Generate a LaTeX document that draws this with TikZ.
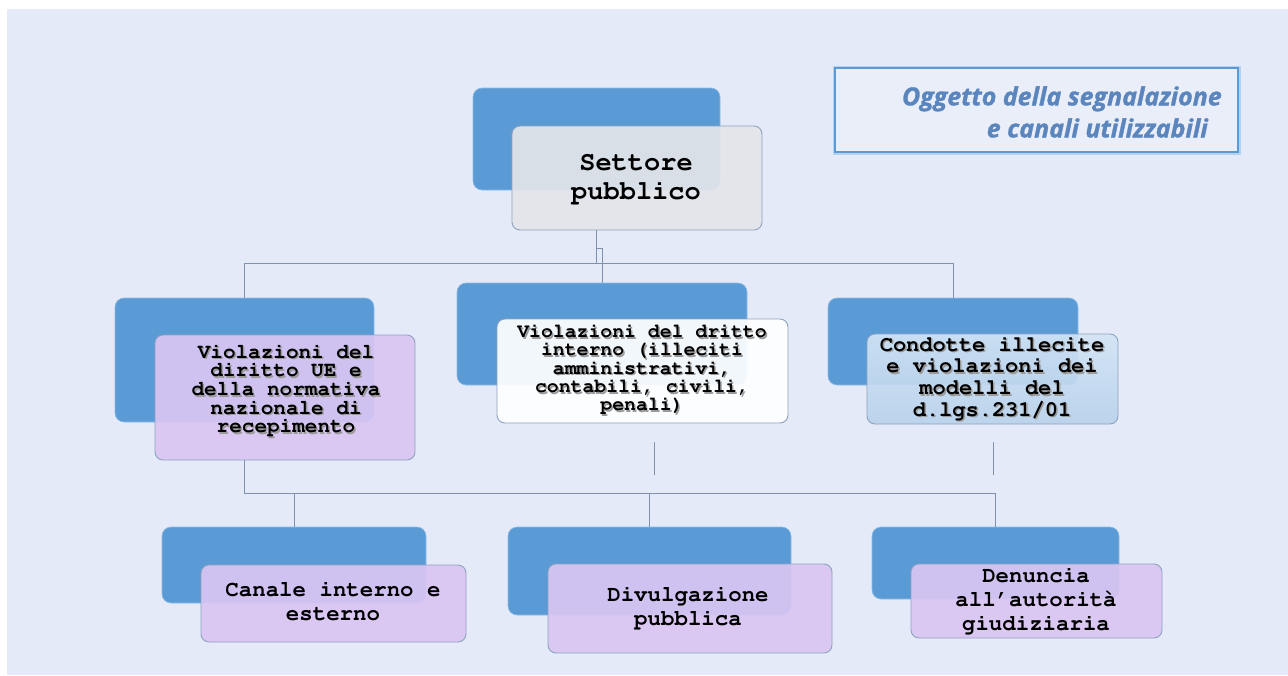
\documentclass[tikz,border=0pt]{standalone}
\usepackage[T1]{fontenc}
\usepackage{fontspec}
\newfontfamily\titlefnt[BoldItalicFeatures={FakeBold=1.2}]{Open Sans}
\newcommand{\courb}{\fontencoding{T1}\fontfamily{pcr}\fontseries{b}\fontshape{n}\selectfont}
\definecolor{bgC}{HTML}{E4EAF7}
\definecolor{blueC}{HTML}{5B9BD5}
\definecolor{blueEdge}{HTML}{8DBBE6}
\definecolor{edgeC}{HTML}{8EA2C0}
\definecolor{lineC}{HTML}{7F93B0}
\definecolor{greyF}{HTML}{E4E5E9}
\definecolor{purpF}{HTML}{DAC6F3}
\definecolor{lbTop}{HTML}{D3E4F5}
\definecolor{lbBot}{HTML}{B8D2EC}
\definecolor{titleC}{HTML}{5A85BD}
\definecolor{titleEdge}{HTML}{5B9BD5}
\definecolor{titleGlow}{HTML}{B5D2F0}
\definecolor{shadowC}{HTML}{9A9A9A}
\begin{document}
\begin{tikzpicture}[x=1pt,y=-1pt,
  back/.style={fill=blueC, draw=blueEdge, line width=0.6pt, rounded corners=9pt, inner sep=0pt},
  front/.style={draw=edgeC, line width=0.9pt, rounded corners=8pt, inner sep=0pt, fill opacity=0.92},
  conn/.style={draw=lineC, line width=1pt},
  txt/.style={align=center, inner sep=0pt, text=black},
  shad/.style={align=center, inner sep=0pt, text=shadowC},
  fbig/.style={font=\courb\fontsize{27}{29}\selectfont},
  fml/.style={font=\courb\fontsize{21}{18.7}\selectfont},
  fmc/.style={font=\courb\fontsize{19.8}{18.3}\selectfont},
  fmr/.style={font=\courb\fontsize{22}{21.7}\selectfont},
  fbot/.style={font=\courb\fontsize{22.4}{24}\selectfont}
]
\useasboundingbox (0,0) rectangle (1288,675);
\fill[white] (0,0) rectangle (1288,675);
\fill[bgC] (7,9) rectangle (1288,675);

% title box
\node[draw=titleGlow, line width=5pt, minimum width=403pt, minimum height=84pt, inner sep=0pt] (tglow) at (1036.5,110) {};
\node[draw=titleEdge, line width=1.6pt, fill=bgC!80!white, minimum width=403pt, minimum height=84pt, inner sep=0pt] (tbox) at (1036.5,110) {};
\node[anchor=east, align=right, inner sep=0pt, text=titleC, font=\titlefnt\bfseries\itshape\fontsize{25}{32}\selectfont] (ttxt) at (1222,112) {Oggetto della segnalazione\\e canali utilizzabili\hspace*{14pt}};

% back boxes
\node[back, minimum width=247pt, minimum height=102pt] (topb) at (596.5,139) {};
\node[back, minimum width=259pt, minimum height=124pt] (mlb) at (244.5,360) {};
\node[back, minimum width=290pt, minimum height=102pt] (mcb) at (602,334) {};
\node[back, minimum width=250pt, minimum height=87pt] (mrb) at (953,341.5) {};
\node[back, minimum width=264pt, minimum height=76pt] (blb) at (294,565) {};
\node[back, minimum width=283pt, minimum height=88pt] (bcb) at (649.5,571) {};
\node[back, minimum width=247pt, minimum height=72pt] (brb) at (995.5,563) {};

% front boxes
\node[front, fill=greyF, minimum width=250pt, minimum height=104pt] (topf) at (637,178) {};
\node[front, fill=purpF, minimum width=260pt, minimum height=125pt] (mlf) at (285,397.5) {};
\node[front, fill=white, minimum width=291pt, minimum height=104pt] (mcf) at (642.5,371) {};
\node[front, top color=lbTop, bottom color=lbBot, minimum width=251pt, minimum height=90pt] (mrf) at (992.5,379) {};
\node[front, fill=purpF, minimum width=265pt, minimum height=77pt] (blf) at (333.5,603.5) {};
\node[front, fill=purpF, minimum width=284pt, minimum height=89pt] (bcf) at (690,608.5) {};
\node[front, fill=purpF, minimum width=251pt, minimum height=74pt] (brf) at (1036.5,601) {};

% connectors
\coordinate (busT) at (0,263);
\coordinate (jog) at (597,248);
\coordinate (busB) at (0,493);
\draw[conn] (topb.south |- topf.south) -- (topb.south |- busT);
\draw[conn] (mlb.north |- busT) -- (mrb.north |- busT);
\draw[conn] (mlb.north |- busT) -- (mlb.north);
\draw[conn] (mrb.north |- busT) -- (mrb.north);
\draw[conn] (jog) -| (mcb.north);
\draw[conn] (mlb.south |- mlf.south) -- (mlb.south |- busB) -- (brb.north |- busB) -- (brb.north);
\draw[conn] (blb.north |- busB) -- (blb.north);
\draw[conn] (bcb.north |- busB) -- (bcb.north);
\coordinate (mcs1) at (654,442);
\coordinate (mcs2) at (654,475);
\coordinate (mrs1) at (993,442);
\coordinate (mrs2) at (993,475);
\draw[conn] (mcs1) -- (mcs2);
\draw[conn] (mrs1) -- (mrs2);

% texts
\node[txt, fbig] (topt) at (636,179) {Settore\\pubblico};

\node[shad, fml] (mlts) at (287.5,391.5) {Violazioni del\\diritto UE e\\della normativa\\nazionale di\\recepimento};
\node[txt, fml] (mlt) at (286,390) {Violazioni del\\diritto UE e\\della normativa\\nazionale di\\recepimento};

\node[shad, fmc] (mcts) at (643.5,370.5) {Violazioni del dritto\\interno (illeciti\\amministrativi,\\contabili, civili,\\penali)};
\node[txt, fmc] (mct) at (642,369) {Violazioni del dritto\\interno (illeciti\\amministrativi,\\contabili, civili,\\penali)};

\node[shad, fmr] (mrts) at (993.5,379.5) {Condotte illecite\\e violazioni dei\\modelli del\\d.lgs.231/01};
\node[txt, fmr] (mrt) at (992,378) {Condotte illecite\\e violazioni dei\\modelli del\\d.lgs.231/01};

\node[txt, fbot] (blt) at (333,601) {Canale interno e\\esterno};
\node[txt, fbot] (bct) at (688,608) {Divulgazione\\pubblica};
\node[txt, fbot] (brt) at (1036,601) {Denuncia\\all\textquoteright autorit\`a\\giudiziaria};
\end{tikzpicture}
\end{document}
